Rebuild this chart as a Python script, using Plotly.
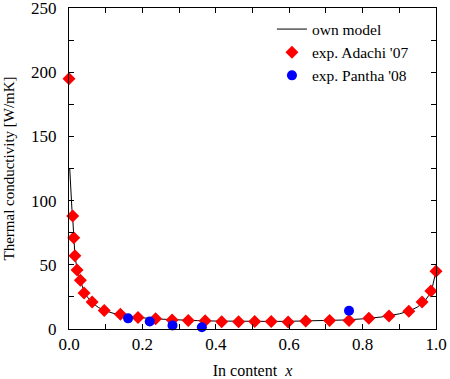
import plotly.graph_objects as go

# own model curve
model_x = [0.002, 0.004, 0.006, 0.008, 0.010, 0.013, 0.016, 0.022, 0.031, 0.041,
           0.05, 0.063, 0.08, 0.096, 0.12, 0.14, 0.17, 0.20, 0.25, 0.30, 0.35,
           0.40, 0.45, 0.50, 0.55, 0.60, 0.65, 0.70, 0.75, 0.80, 0.85, 0.90,
           0.93, 0.95, 0.97, 0.98, 0.99, 1.0]
model_y = [125, 110, 100, 93, 87, 71, 58, 46, 37, 29,
           25, 20.5, 16.8, 14.5, 12.3, 11.0, 9.7, 8.7, 7.7, 7.0, 6.5,
           6.2, 6.0, 5.9, 5.9, 6.0, 6.2, 6.5, 7.0, 7.9, 9.3, 11.8,
           14.3, 17.2, 22.0, 26.0, 32.5, 45]

# exp. Adachi '07
adachi_x = [0, 0.010, 0.013, 0.016, 0.022, 0.031, 0.041, 0.063, 0.096, 0.14,
            0.188, 0.236, 0.281, 0.325, 0.371, 0.416, 0.462, 0.506, 0.551,
            0.597, 0.645, 0.71, 0.763, 0.817, 0.872, 0.926, 0.962, 0.986, 1.0]
adachi_y = [195, 88, 71, 57, 46, 38, 28, 21, 14.4, 11.4,
            9.0, 8.0, 7.0, 6.7, 6.4, 5.7, 5.7, 5.9, 5.9,
            5.4, 6.2, 6.7, 6.7, 8.3, 10.1, 13.9, 21.1, 29.6, 45]

# exp. Pantha '08
pantha_x = [0.161, 0.22, 0.282, 0.362, 0.763]
pantha_y = [8.3, 5.9, 2.8, 1.3, 14.2]

x_ticks = [0.0, 0.2, 0.4, 0.6, 0.8, 1.0]
y_ticks = [0, 50, 100, 150, 200, 250]

font_family = "Liberation Serif, Times New Roman, serif"

fig = go.Figure()
fig.add_trace(go.Scatter(x=model_x, y=model_y, mode="lines", name="own model",
                         line=dict(color="black", width=1)))
fig.add_trace(go.Scatter(x=adachi_x, y=adachi_y, mode="markers", name="exp. Adachi '07",
                         marker=dict(symbol="diamond", color="red", size=10,
                                     line=dict(width=0)), cliponaxis=False))
fig.add_trace(go.Scatter(x=pantha_x, y=pantha_y, mode="markers", name="exp. Pantha '08",
                         marker=dict(symbol="circle", color="blue", size=10,
                                     line=dict(width=0)), cliponaxis=False))

axis_common = dict(showline=True, linecolor="black", linewidth=1, mirror="ticks",
                   ticks="inside", ticklen=5, tickcolor="black", showgrid=False,
                   zeroline=False, automargin=False, ticklabeloverflow="allow",
                   tickfont=dict(family=font_family, size=17, color="black"))

fig.update_xaxes(range=[0, 1], tickvals=x_ticks, tickformat=".1f",
                 minor=dict(dtick=0.1, ticks="inside", ticklen=5, tickcolor="black", showgrid=False),
                 title=dict(text="In content  <i>x</i>",
                            font=dict(family=font_family, size=16, color="black"), standoff=12),
                 **axis_common)
fig.update_yaxes(range=[0, 250.01], tickvals=y_ticks, ticklabelstandoff=8,
                 minor=dict(dtick=25, ticks="inside", ticklen=5, tickcolor="black", showgrid=False),
                 **axis_common)

fig.add_annotation(text="Thermal conductivity [W/mK]", xref="paper", yref="paper",
                   x=0, y=0.5, xanchor="center", yanchor="middle", xshift=-61,
                   textangle=-90, showarrow=False,
                   font=dict(family=font_family, size=15, color="black"))

fig.update_layout(
    width=450, height=379,
    margin=dict(l=69, r=14, t=8, b=50),
    paper_bgcolor="white", plot_bgcolor="white",
    font=dict(family=font_family, color="black"),
    legend=dict(x=0.553, y=0.986, xanchor="left", yanchor="top",
                bgcolor="rgba(0,0,0,0)", borderwidth=0,
                font=dict(family=font_family, size=15.5, color="black"),
                tracegroupgap=0, itemwidth=30),
    showlegend=True,
)

fig.write_html("out.html", config={"displayModeBar": False},
               post_script="document.body.style.margin='0';document.body.style.padding='0';")
